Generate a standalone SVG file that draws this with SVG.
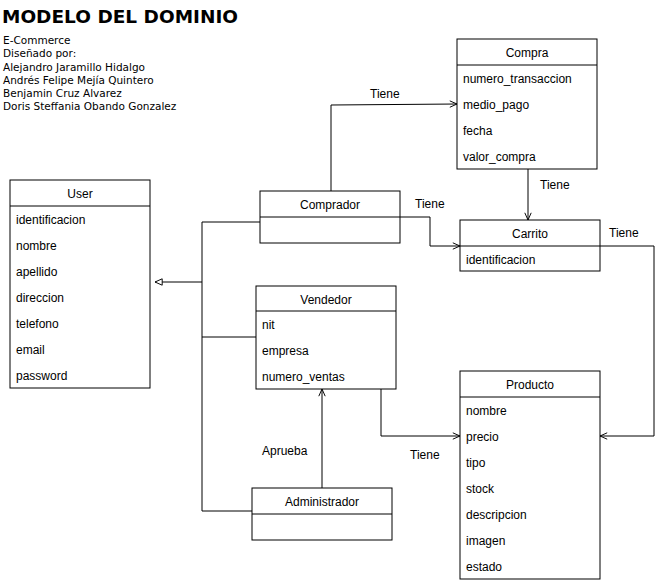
<svg xmlns="http://www.w3.org/2000/svg" width="664" height="583" viewBox="0 0 664 583">
<style>
.box{fill:#fff;stroke:#000;stroke-width:1}
.t{font-family:"Liberation Sans",Arial,sans-serif;font-size:12px;fill:#000}
.h{text-anchor:middle}
.c{fill:none;stroke:#000;stroke-width:1}
.info{font-family:"DejaVu Sans",Verdana,sans-serif;font-size:10.5px;fill:#000}
</style>
<defs>
<marker id="open" viewBox="0 0 10 10" refX="10" refY="5" markerWidth="8" markerHeight="8" markerUnits="userSpaceOnUse" orient="auto">
<path d="M1,1 L10,5 L1,9" fill="none" stroke="#000" stroke-width="1.2"/>
</marker>
<marker id="tri" viewBox="0 0 10 10" refX="10" refY="5" markerWidth="8" markerHeight="8" markerUnits="userSpaceOnUse" orient="auto">
<path d="M1,1 L10,5 L1,9 Z" fill="#fff" stroke="#000" stroke-width="1.2"/>
</marker>
</defs>
<rect width="664" height="583" fill="#fff"/>

<g id="title">
<text x="2" y="23" font-family="DejaVu Sans,Verdana,sans-serif" font-size="18.5" font-weight="bold" textLength="236" lengthAdjust="spacingAndGlyphs">MODELO DEL DOMINIO</text>
<text class="info" x="3" y="44">E-Commerce</text>
<text class="info" x="3" y="57">Diseñado por:</text>
<text class="info" x="3" y="71">Alejandro Jaramillo Hidalgo</text>
<text class="info" x="3" y="84">Andrés Felipe Mejía Quintero</text>
<text class="info" x="3" y="97">Benjamin Cruz Alvarez</text>
<text class="info" x="3" y="110">Doris Steffania Obando Gonzalez</text>
</g>

<g id="connectors">
<path class="c" d="M202,222 L202,511"/>
<path class="c" d="M260,222 L202,222"/>
<path class="c" d="M256,337 L202,337"/>
<path class="c" d="M252,511 L202,511"/>
<path class="c" d="M202,282 L155,282" marker-end="url(#tri)"/>
<path class="c" d="M322,488 L322,389" marker-end="url(#open)"/>
<path class="c" d="M381,389 L381,436 L460,436" marker-end="url(#open)"/>
<path class="c" d="M600,246 L654,246 L654,436 L600,436" marker-end="url(#open)"/>
<path class="c" d="M528,169 L528,220" marker-end="url(#open)"/>
<path class="c" d="M331,191 L331,105 L457,104" marker-end="url(#open)"/>
<path class="c" d="M400,217 L430,217 L430,246 L460,246" marker-end="url(#open)"/>
<text class="t" x="370" y="98">Tiene</text>
<text class="t" x="540" y="189">Tiene</text>
<text class="t" x="415" y="208">Tiene</text>
<text class="t" x="609" y="237">Tiene</text>
<text class="t" x="262" y="455">Aprueba</text>
<text class="t" x="410" y="459">Tiene</text>
</g>

<g id="User">
<rect class="box" x="10" y="180" width="140" height="208"/>
<line class="c" x1="10" y1="206" x2="150" y2="206"/>
<text class="t h" x="80" y="198">User</text>
<text class="t" x="16" y="224">identificacion</text>
<text class="t" x="16" y="250">nombre</text>
<text class="t" x="16" y="276">apellido</text>
<text class="t" x="16" y="302">direccion</text>
<text class="t" x="16" y="328">telefono</text>
<text class="t" x="16" y="354">email</text>
<text class="t" x="16" y="380">password</text>
</g>

<g id="Comprador">
<rect class="box" x="260" y="191" width="140" height="52"/>
<line class="c" x1="260" y1="217" x2="400" y2="217"/>
<text class="t h" x="330" y="209">Comprador</text>
</g>

<g id="Vendedor">
<rect class="box" x="256" y="286" width="140" height="103"/>
<line class="c" x1="256" y1="311" x2="396" y2="311"/>
<text class="t h" x="326" y="304">Vendedor</text>
<text class="t" x="262" y="329">nit</text>
<text class="t" x="262" y="355">empresa</text>
<text class="t" x="262" y="381">numero_ventas</text>
</g>

<g id="Administrador">
<rect class="box" x="252" y="488" width="140" height="52"/>
<line class="c" x1="252" y1="514" x2="392" y2="514"/>
<text class="t h" x="322" y="506">Administrador</text>
</g>

<g id="Compra">
<rect class="box" x="457" y="39" width="140" height="130"/>
<line class="c" x1="457" y1="65" x2="597" y2="65"/>
<text class="t h" x="527" y="57">Compra</text>
<text class="t" x="463" y="83">numero_transaccion</text>
<text class="t" x="463" y="109">medio_pago</text>
<text class="t" x="463" y="135">fecha</text>
<text class="t" x="463" y="161">valor_compra</text>
</g>

<g id="Carrito">
<rect class="box" x="460" y="220" width="140" height="51"/>
<line class="c" x1="460" y1="246" x2="600" y2="246"/>
<text class="t h" x="530" y="238">Carrito</text>
<text class="t" x="466" y="264">identificacion</text>
</g>

<g id="Producto">
<rect class="box" x="460" y="371" width="140" height="208"/>
<line class="c" x1="460" y1="397" x2="600" y2="397"/>
<text class="t h" x="530" y="389">Producto</text>
<text class="t" x="466" y="415">nombre</text>
<text class="t" x="466" y="441">precio</text>
<text class="t" x="466" y="467">tipo</text>
<text class="t" x="466" y="493">stock</text>
<text class="t" x="466" y="519">descripcion</text>
<text class="t" x="466" y="545">imagen</text>
<text class="t" x="466" y="571">estado</text>
</g>
</svg>
